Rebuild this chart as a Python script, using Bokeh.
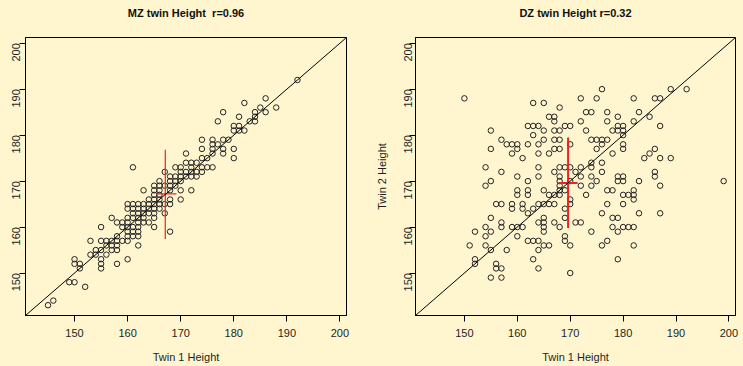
import math
from bokeh.plotting import figure
from bokeh.models import FixedTicker, Range1d, Slope, ColumnDataSource, LinearAxis
from bokeh.layouts import row
from bokeh.embed import file_html
from bokeh.resources import INLINE

# ---------------- data ----------------
tick_values = [150, 160, 170, 180, 190, 200]

mz_twin1 = [145, 146, 149, 150, 152, 150, 150, 151, 151, 153,
            153, 154, 154, 155, 155, 155, 155, 155, 155, 156,
            156, 156, 157, 157, 157, 157, 158, 158, 158, 158,
            158, 159, 159, 160, 162, 160, 160, 161, 167, 169,
            170, 171, 172, 172, 171, 168, 169, 170, 171, 172,
            168, 169, 170, 166, 165, 166, 167, 168, 163, 165,
            166, 168, 172, 165, 166, 164, 165, 166, 168, 170,
            160, 161, 162, 163, 164, 165, 166, 167, 168, 160,
            161, 162, 163, 164, 165, 166, 161, 162, 163, 164,
            165, 167, 160, 161, 162, 163, 165, 160, 162, 163,
            164, 160, 161, 162, 165, 161, 162, 168, 160, 161,
            162, 159, 158, 173, 174, 175, 173, 174, 176, 172,
            173, 174, 175, 180, 174, 176, 178, 180, 176, 178,
            174, 176, 178, 179, 176, 177, 180, 181, 182, 180,
            181, 177, 178, 181, 183, 184, 184, 184, 186, 185,
            188, 182, 186, 192, 170, 171, 169, 170]
mz_twin2 = [143, 144, 148, 148, 147, 152, 153, 152, 151, 154,
            157, 154, 155, 155, 153, 152, 151, 157, 160, 154,
            156, 157, 157, 156, 155, 162, 152, 157, 156, 155,
            161, 161, 160, 153, 156, 157, 159, 173, 172, 173,
            172, 172, 173, 174, 176, 171, 171, 171, 171, 171,
            170, 170, 170, 170, 169, 169, 169, 169, 168, 168,
            168, 168, 168, 167, 167, 166, 166, 166, 166, 166,
            165, 165, 165, 165, 165, 165, 165, 165, 165, 164,
            164, 164, 164, 164, 164, 164, 163, 163, 163, 163,
            163, 163, 162, 162, 162, 162, 162, 161, 161, 161,
            161, 160, 160, 160, 160, 159, 159, 159, 158, 158,
            158, 157, 158, 172, 173, 173, 174, 172, 173, 172,
            171, 175, 175, 175, 177, 177, 177, 177, 176, 176,
            179, 179, 179, 179, 178, 178, 181, 181, 181, 182,
            182, 183, 185, 184, 183, 183, 184, 185, 185, 186,
            186, 187, 188, 192, 173, 174, 169, 168]

dz_twin1 = [150, 163, 165, 168, 172, 166, 167, 167, 173, 162,
            163, 164, 169, 170, 172, 165, 167, 168, 163, 155,
            173, 157, 158, 159, 160, 160, 159, 155, 162, 164,
            164, 166, 165, 167, 168, 167, 168, 161, 170, 154,
            157, 164, 164, 160, 162, 167, 168, 169, 170, 171,
            168, 168, 168, 170, 172, 172, 172, 154, 155, 160,
            162, 176, 175, 182, 186, 187, 189, 192, 174, 177,
            179, 177, 183, 182, 185, 179, 180, 178, 179, 180,
            180, 187, 174, 175, 176, 177, 176, 175, 178, 180,
            180, 184, 185, 186, 187, 189, 174, 174, 176, 176,
            174, 175, 179, 180, 179, 180, 186, 186, 183, 187,
            199, 177, 178, 182, 160, 162, 165, 166, 167, 168,
            168, 169, 156, 157, 159, 159, 161, 161, 162, 163,
            164, 165, 166, 167, 169, 170, 170, 169, 169, 169,
            170, 173, 172, 171, 174, 155, 154, 155, 157, 157,
            159, 160, 161, 160, 152, 151, 154, 155, 152, 152,
            156, 156, 157, 155, 157, 158, 162, 163, 164, 165,
            166, 164, 163, 164, 170, 165, 165, 165, 165, 164,
            167, 168, 174, 180, 181, 182, 182, 177, 180, 176,
            178, 179, 183, 187, 178, 179, 180, 181, 182, 176,
            177, 182, 179, 154]
dz_twin2 = [188, 187, 187, 186, 188, 184, 184, 183, 185, 182,
            182, 182, 182, 182, 183, 181, 181, 181, 180, 181,
            181, 179, 178, 178, 178, 177, 176, 177, 178, 178,
            176, 176, 179, 179, 179, 177, 177, 175, 178, 173,
            172, 173, 171, 171, 170, 172, 173, 173, 173, 172,
            171, 170, 169, 170, 173, 171, 169, 169, 170, 168,
            168, 190, 188, 188, 188, 188, 190, 190, 185, 185,
            184, 183, 185, 183, 184, 182, 182, 181, 181, 181,
            180, 182, 179, 179, 179, 179, 178, 177, 176, 178,
            177, 175, 176, 177, 175, 175, 174, 173, 174, 172,
            171, 170, 171, 171, 170, 170, 172, 171, 170, 169,
            170, 168, 168, 168, 167, 167, 168, 167, 167, 168,
            167, 168, 165, 165, 165, 164, 165, 164, 163, 164,
            165, 165, 165, 165, 164, 166, 165, 162, 158, 157,
            156, 167, 161, 161, 159, 162, 160, 159, 161, 160,
            160, 160, 160, 158, 159, 156, 156, 155, 153, 152,
            152, 151, 151, 149, 149, 155, 157, 157, 157, 156,
            156, 155, 153, 151, 150, 162, 161, 160, 159, 161,
            161, 160, 169, 167, 167, 167, 166, 165, 165, 163,
            162, 162, 163, 163, 160, 159, 160, 160, 160, 156,
            157, 156, 153, 158]

# red cross markers (centre and extents)
mz_cross = dict(cx=167.1, cy=167.2, v_lo=157.4, v_hi=176.8, h_lo=165.4, h_hi=169.2)
dz_cross = dict(cx=169.6, cy=169.6, v_lo=159.8, v_hi=179.5, h_lo=167.8, h_hi=171.4)

titles = ["MZ twin Height\u00a0 r=0.96", "DZ twin Height r=0.32"]
x_label = "Twin 1 Height"
y_label = "Twin 2 Height"

# ---------------- styling ----------------
BG = "#FFF6D0"
FONT = "Liberation Sans"
TXT = "#1e1e1e"
LO, HI = 140.76, 201.24


def make_panel(title, t1, t2, cross, red_w, ylab, width, min_left, min_right, ylab_standoff):
    p = figure(width=width, height=366, output_backend="svg", toolbar_location=None,
               x_range=Range1d(LO, HI), y_range=Range1d(LO, HI),
               min_border_left=min_left, min_border_right=min_right,
               min_border_top=37, min_border_bottom=51,
               background_fill_color=BG, border_fill_color=BG,
               outline_line_color="black", outline_line_width=1)
    p.grid.visible = False

    xa = p.below[0]
    ya = p.left[0]
    for ax in (xa, ya):
        ax.ticker = FixedTicker(ticks=tick_values, minor_ticks=[])
        ax.major_tick_out = 6
        ax.major_tick_in = 0
        ax.minor_tick_line_color = None
        ax.axis_line_color = "black"
        ax.major_tick_line_color = "black"
        ax.major_label_text_font = FONT
        ax.major_label_text_font_size = "11px"
        ax.major_label_text_color = TXT
        ax.axis_label_text_font = FONT
        ax.axis_label_text_font_size = "11px"
        ax.axis_label_text_font_style = "normal"
        ax.axis_label_text_color = TXT
    xa.major_label_standoff = 7
    xa.axis_label = x_label
    xa.axis_label_standoff = 11
    ya.major_label_standoff = ylab_standoff
    ya.major_label_orientation = math.pi / 2
    if ylab:
        ya.axis_label = ylab
        ya.axis_label_standoff = 10

    # chart title: the label of a tick-less axis above the plotting region
    title_axis = LinearAxis(ticker=FixedTicker(ticks=[], minor_ticks=[]), axis_label=title,
                            axis_line_color=None, major_tick_line_color=None,
                            minor_tick_line_color=None, major_tick_out=0, major_tick_in=0,
                            major_label_standoff=0, axis_label_standoff=19,
                            axis_label_text_font=FONT, axis_label_text_font_size="11px",
                            axis_label_text_font_style="bold", axis_label_text_color="#111111")
    p.add_layout(title_axis, "above")

    src = ColumnDataSource(dict(t1=t1, t2=t2))
    p.scatter(x="t1", y="t2", source=src, marker="circle", size=5.5,
              fill_color=None, line_color="#222222", line_width=1)
    p.add_layout(Slope(gradient=1, y_intercept=0, line_color="black", line_width=1))

    p.segment(x0=[cross["cx"]], y0=[cross["v_lo"]], x1=[cross["cx"]], y1=[cross["v_hi"]],
              line_color="#ee2222", line_width=red_w)
    p.segment(x0=[cross["h_lo"]], y0=[cross["cy"]], x1=[cross["h_hi"]], y1=[cross["cy"]],
              line_color="#ee2222", line_width=red_w)
    return p


left = make_panel(titles[0], mz_twin1, mz_twin2, mz_cross, 1.2, None, 372, 25, 26, 3)
right = make_panel(titles[1], dz_twin1, dz_twin2, dz_cross, 2, y_label, 371, 43, 8, 1)

layout = row(left, right, spacing=0)
layout.styles = {"background-color": BG}

open("out.html", "w").write(file_html(layout, INLINE))
